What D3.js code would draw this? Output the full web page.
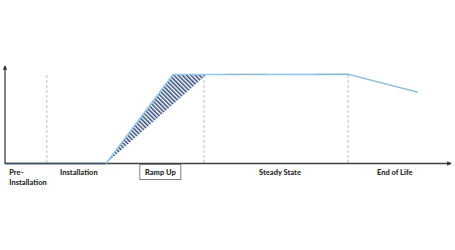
<!DOCTYPE html>
<html><head><meta charset="utf-8">
<script src="https://cdn.jsdelivr.net/npm/d3@7"></script>
<style>body{margin:0;background:#fff}svg{display:block}</style>
</head><body>
<svg id="c" width="455" height="250"></svg>
<script>
// phase labels and their centre positions (time units 0-100)
const phases = ["Pre-\nInstallation", "Installation", "Ramp Up", "Steady State", "End of Life"];
const phaseCenters = [0.5, 16.6, 34.9, 61.8, 87.6];
const phaseAnchors = ["start", "middle", "middle", "middle", "middle"];
const boundaries = [9.4, 44.7, 77.1];
// performance curve
const curveT = [0, 22.7, 37.75, 45.2, 77.1, 92.8];
const curveV = [0, 0, 93.2, 93.3, 93.5, 74.6];
// hatched ramp-up gap triangle
const gapT = [22.7, 37.75, 45.2];
const gapV = [0, 93.2, 92.8];

const svg = d3.select("#c");
const x = d3.scaleLinear().domain([0, 100]).range([5, 450]);
const y = d3.scaleLinear().domain([0, 100]).range([163.5, 68]);

const defs = svg.append("defs");
const pat = defs.append("pattern").attr("id", "hatch").attr("patternUnits", "userSpaceOnUse")
  .attr("width", 3).attr("height", 3).attr("patternTransform", "rotate(-45)");
pat.append("rect").attr("width", 3).attr("height", 3).attr("fill", "#fff");
pat.append("rect").attr("width", 1.5).attr("height", 3).attr("fill", "#2f4a7a");
const arrow = defs.append("marker").attr("id", "arr").attr("viewBox", "0 0 6 6").attr("refX", 5).attr("refY", 3)
  .attr("markerWidth", 3.5).attr("markerHeight", 3.5).attr("orient", "auto");
arrow.append("path").attr("d", "M0,0L6,3L0,6Z").attr("fill", "#333");

// boundary dashed lines
svg.selectAll(".b").data(boundaries).join("line")
  .attr("x1", d => x(d)).attr("x2", d => x(d))
  .attr("y1", y(92.7)).attr("y2", y(0))
  .attr("stroke", "#bdbdbd").attr("stroke-width", 1).attr("stroke-dasharray", "3,2");

// hatched triangle
const gapPts = gapT.map((t, i) => [x(t), y(gapV[i])]);
svg.append("path").attr("d", d3.line()(gapPts) + "Z").attr("fill", "url(#hatch)");
svg.append("line").attr("x1", gapPts[1][0]).attr("y1", gapPts[1][1]).attr("x2", gapPts[2][0]).attr("y2", gapPts[2][1])
  .attr("stroke", "#9a9a9a").attr("stroke-width", 1).attr("stroke-dasharray", "2,1");

// axes
svg.append("line").attr("x1", x(0)).attr("x2", x(0)).attr("y1", y(0) + 0.5).attr("y2", 66)
  .attr("stroke", "#404040").attr("stroke-width", 1.3).attr("marker-end", "url(#arr)");
svg.append("line").attr("x1", x(0)).attr("x2", 451).attr("y1", y(0)).attr("y2", y(0))
  .attr("stroke", "#404040").attr("stroke-width", 1.3).attr("marker-end", "url(#arr)");

// curve
const pts = curveT.map((t, i) => [x(t), y(curveV[i])]);
svg.append("path").attr("d", d3.line()(pts.slice(0, 2))).attr("fill", "none")
  .attr("stroke", "#3d4f66").attr("stroke-width", 1.6);
svg.append("path").attr("d", d3.line()(pts.slice(1))).attr("fill", "none")
  .attr("stroke", "#8fcbec").attr("stroke-width", 1.5);
svg.append("path").attr("d", d3.line()(pts.slice(3, 5))).attr("fill", "none")
  .attr("stroke", "#a0a0a0").attr("stroke-width", 1).attr("stroke-dasharray", "40,50").attr("stroke-dashoffset", -20).attr("opacity", 0.6);
svg.append("path").attr("d", d3.line()(pts.slice(4))).attr("fill", "none")
  .attr("stroke", "#a8a8a8").attr("stroke-width", 0.8).attr("stroke-dasharray", "2,2");

// ramp-up box
const ri = phases.indexOf("Ramp Up");
svg.append("rect").attr("x", x(phaseCenters[ri]) - 20.5).attr("y", 164.5).attr("width", 41).attr("height", 15)
  .attr("fill", "none").attr("stroke", "#7f7f7f").attr("stroke-width", 1);

// labels
const lab = svg.selectAll(".lab").data(phases).join("text")
  .attr("x", (d, i) => x(phaseCenters[i]) + (i === 0 ? 2 : 0)).attr("y", 175)
  .attr("text-anchor", (d, i) => phaseAnchors[i])
  .attr("font-family", "Lato, 'Open Sans', sans-serif").attr("font-weight", "900")
  .attr("font-size", 7.5).attr("fill", "#2b2b2b");
lab.each(function(d) {
  d.split("\n").forEach((s, k) => {
    d3.select(this).append("tspan").attr("x", d3.select(this).attr("x")).attr("dy", k ? 10 : 0).text(s);
  });
});
</script>
</body></html>
